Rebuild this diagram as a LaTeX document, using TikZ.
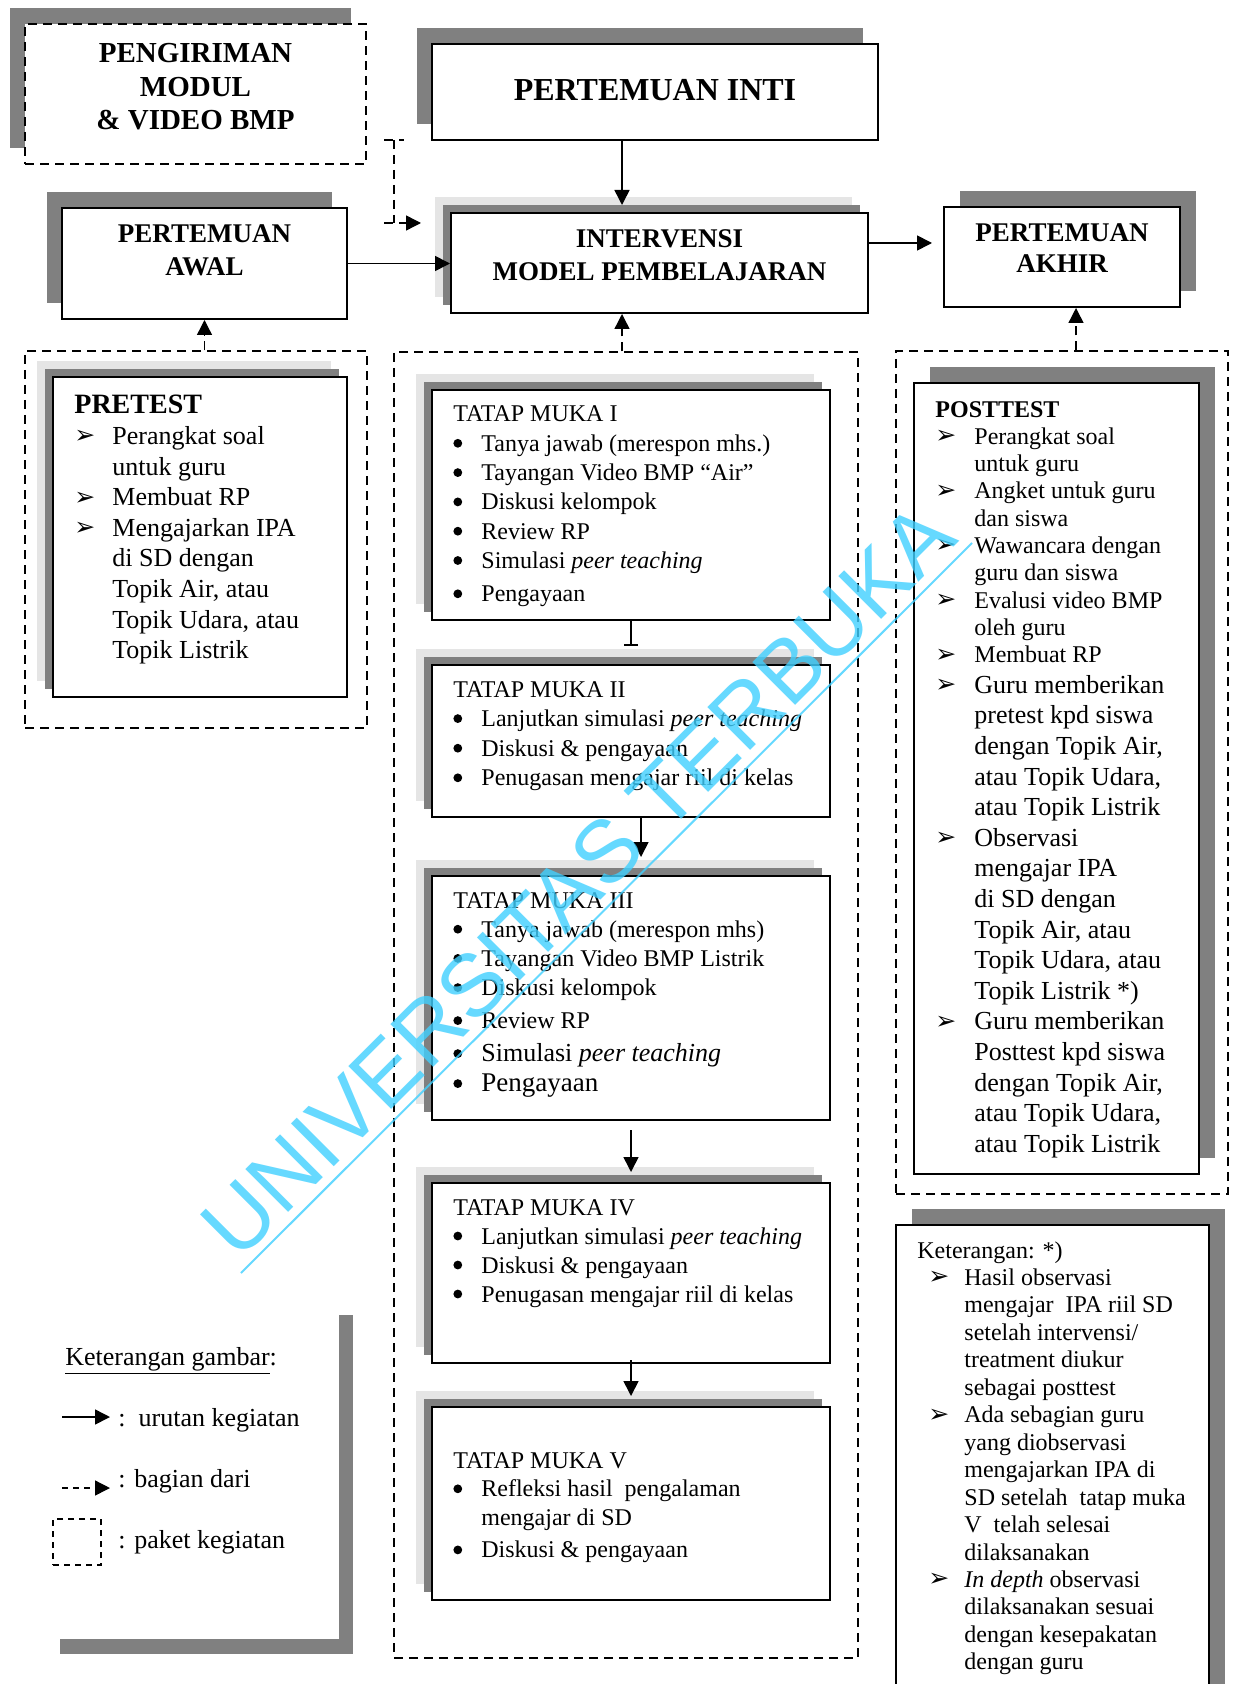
\documentclass[tikz,border=0pt]{standalone}
\usepackage{fontspec}
\setmainfont{Liberation Serif}
\newfontfamily\symfont{DejaVu Sans}
\newfontfamily\wmfont{Liberation Sans}
\usetikzlibrary{arrows.meta,fit,shadows}

\definecolor{shadowgray}{RGB}{128,128,128}
\definecolor{lightshade}{RGB}{229,229,229}
\definecolor{wmblue}{RGB}{64,208,255}

% list items
\newcommand\arr{\raisebox{0.3pt}{\symfont\fontsize{12.5}{12}\selectfont ➢}}
\newcommand\bdot{\raisebox{1.8pt}{\tikz\fill (0,0) circle (2.2pt);}}
\newcommand\bitem[1]{\par\noindent\hangindent=14pt\hangafter=1\makebox[14pt][l]{\bdot}#1}
\newcommand\aitem[2][19pt]{\par\noindent\hangindent=#1\hangafter=1\makebox[#1][l]{\arr}#2}
\newcommand\kitem[1]{\par\noindent\hangindent=23.5pt\hangafter=1\hspace*{5.5pt}\makebox[18pt][l]{\arr}#1}

\begin{document}
\begin{tikzpicture}
	[
	x=0.5pt, y=-0.5pt,
	box/.style = {draw, line width=1pt, fill=white, inner sep=0pt},
	pkg/.style = {draw, dash pattern=on 4.5pt off 3pt, line width=0.7pt, inner sep=0pt},
	shadowUL/.style = {general shadow={fill=shadowgray, shadow xshift=-7.75pt, shadow yshift=7.75pt}},
	shadowUR/.style = {general shadow={fill=shadowgray, shadow xshift=8pt, shadow yshift=8pt}},
	twoshadow/.style = {general shadow={fill=lightshade, shadow xshift=-8pt, shadow yshift=8pt},
		general shadow={fill=shadowgray, shadow xshift=-4pt, shadow yshift=4pt}},
	txt/.style = {inner sep=0pt, anchor=base west},
	title/.style = {inner sep=0pt, anchor=base, font=\bfseries},
	legtxt/.style = {txt, font=\fontsize{13}{15}\selectfont},
	seq/.style = {line width=0.8pt, -{Triangle[length=7.5pt,width=7.5pt]}},
	part/.style = {seq, dash pattern=on 4.5pt off 3pt, line width=0.7pt},
	wm/.style = {inner sep=0pt, anchor=base west, rotate=45, text=wmblue, text opacity=0.8,
		font=\wmfont\fontsize{44}{44}\selectfont}
	]
	
	\path[use as bounding box, fill=white] (0,0) rectangle (1236,1684);
	
	% top row
	\node[box, shadowUL, dash pattern=on 4.5pt off 3pt, line width=0.7pt, fit={(25,24) (366,164)}] (kirim) {};
	\node[box, shadowUL, fit={(432,44) (878,140)}] (inti) {};
	\node[box, shadowUL, fit={(62,208) (347,319)}] (awal) {};
	\node[box, twoshadow, fit={(451,213) (868,313)}] (interv) {};
	\node[box, shadowUR, fit={(944,207) (1180,307)}] (akhir) {};
	
	\node[title] (kirimtxt) at (195.5,63) {\parbox[t]{170pt}{\centering\fontsize{14.5}{16.75}\selectfont PENGIRIMAN\\MODUL\\\& VIDEO BMP}};
	\node[title] (intitxt) at (655,101) {\fontsize{16}{19}\selectfont PERTEMUAN INTI};
	\node[title] (awaltxt) at (204.5,243) {\parbox[t]{140pt}{\centering\fontsize{13.5}{16.5}\selectfont PERTEMUAN\\AWAL}};
	\node[title] (intervtxt) at (659.5,248) {\parbox[t]{205pt}{\centering\fontsize{13.5}{16.5}\selectfont INTERVENSI\\MODEL PEMBELAJARAN}};
	\node[title] (akhirtxt) at (1062,242) {\parbox[t]{115pt}{\centering\fontsize{13.5}{15.5}\selectfont PERTEMUAN\\AKHIR}};
	
	% paket kegiatan
	\node[pkg, fit={(25,351) (367,728)}] (pkgL) {};
	\node[pkg, fit={(394,352) (858,1658)}] (pkgC) {};
	\node[pkg, fit={(896,351) (1228,1194)}] (pkgR) {};
	
	% pretest
	\node[box, twoshadow, fit={(53,377) (347,697)}] (pre) {};
	\node[txt] (pretxt) at (74,414) {\parbox[t]{136pt}{\raggedright\fontsize{13}{15.3}\selectfont
			{\bfseries\fontsize{14}{15.3}\selectfont PRETEST}
			\aitem{Perangkat soal\newline untuk guru}
			\aitem{Membuat RP}
			\aitem{Mengajarkan IPA\newline\ di SD dengan\newline Topik Air, atau\newline Topik Udara, atau\newline Topik Listrik}}};
	
	% tatap muka
	\node[box, twoshadow, fit={(432,390) (830,620)}] (tm1) {};
	\node[box, twoshadow, fit={(432,665) (830,817)}] (tm2) {};
	\node[box, twoshadow, fit={(432,876) (830,1120)}] (tm3) {};
	\node[box, twoshadow, fit={(432,1183) (830,1363)}] (tm4) {};
	\node[box, twoshadow, fit={(432,1407) (830,1600)}] (tm5) {};
	
	\node[txt] (tm1txt) at (453,422) {\parbox[t]{185pt}{\raggedright\fontsize{12}{14.65}\selectfont
			TATAP MUKA I
			\bitem{Tanya jawab (merespon mhs.)}
			\bitem{Tayangan Video BMP “Air”}
			\bitem{Diskusi kelompok}
			\bitem{Review RP}
			\bitem{Simulasi \textit{peer teaching}}
			\par\vspace{2pt}
			\bitem{Pengayaan}}};
	\node[txt] (tm2txt) at (453,697) {\parbox[t]{185pt}{\raggedright\fontsize{12}{14.8}\selectfont
			TATAP MUKA II
			\bitem{Lanjutkan simulasi \textit{peer teaching}}
			\bitem{Diskusi \& pengayaan}
			\bitem{Penugasan mengajar riil di kelas}}};
	\node[txt] (tm3txt) at (453,908) {\parbox[t]{185pt}{\raggedright\fontsize{12}{14.6}\selectfont
			TATAP MUKA III
			\bitem{Tanya jawab (merespon mhs)}
			\bitem{Tayangan Video BMP Listrik}
			\bitem{Diskusi kelompok}
			\bitem{Review RP}
			{\fontsize{13}{16.5}\selectfont\bitem{Simulasi \textit{peer teaching}}\par}
			{\fontsize{13.5}{15}\selectfont\bitem{Pengayaan}\par}}};
	\node[txt] (tm4txt) at (453,1215) {\parbox[t]{185pt}{\raggedright\fontsize{12}{14.5}\selectfont
			TATAP MUKA IV
			\bitem{Lanjutkan simulasi \textit{peer teaching}}
			\bitem{Diskusi \& pengayaan}
			\bitem{Penugasan mengajar riil di kelas}}};
	\node[txt] (tm5txt) at (453,1468) {\parbox[t]{185pt}{\raggedright\fontsize{12}{14.4}\selectfont
			TATAP MUKA V
			\bitem{Refleksi hasil\ \ pengalaman\newline mengajar di SD}
			\par\vspace{1.75pt}
			\bitem{Diskusi \& pengayaan}}};
	
	% posttest
	\node[box, shadowUR, fit={(914,383) (1199,1174)}] (post) {};
	\node[txt] (posttxt) at (935,417) {\parbox[t]{132pt}{\raggedright\fontsize{12}{13.65}\selectfont
			\textbf{POSTTEST}
			\aitem[19.5pt]{Perangkat soal\newline untuk guru}
			\aitem[19.5pt]{Angket untuk guru\newline dan siswa}
			\aitem[19.5pt]{Wawancara dengan\newline guru dan siswa}
			\aitem[19.5pt]{Evalusi video BMP\newline oleh guru}
			\aitem[19.5pt]{Membuat RP}
			\par\fontsize{13}{15.3}\selectfont
			\aitem[19.5pt]{Guru memberikan\newline pretest kpd siswa\newline dengan Topik Air,\newline atau Topik Udara,\newline atau Topik Listrik}
			\aitem[19.5pt]{Observasi\newline mengajar IPA\newline\ di SD dengan\newline Topik Air, atau\newline Topik Udara, atau\newline Topik Listrik *)}
			\aitem[19.5pt]{Guru memberikan\newline Posttest kpd siswa\newline dengan Topik Air,\newline atau Topik Udara,\newline atau Topik Listrik}}};
	
	% keterangan *)
	\node[box, shadowUR, fit={(896,1225) (1209,1720)}] (ket) {};
	\node[txt] (kettxt) at (917,1258) {\parbox[t]{146pt}{\raggedright\fontsize{12}{13.73}\selectfont
			Keterangan: *)
			\kitem{Hasil observasi\newline mengajar\ \ IPA riil SD\newline setelah intervensi/\newline treatment diukur\newline sebagai posttest}
			\kitem{Ada sebagian guru\newline yang diobservasi\newline mengajarkan IPA di\newline SD setelah\ \ tatap muka\newline V\ \ telah selesai\newline dilaksanakan}
			\kitem{\textit{In depth} observasi\newline dilaksanakan sesuai\newline dengan kesepakatan\newline dengan guru}}};
	
	% connectors
	\coordinate (colx) at (622,0);
	\coordinate (kirimout) at (384,140);
	\coordinate (intervin) at (421,223);
	\coordinate (akhirin) at ([xshift=7pt]akhir.south);
	\draw[part, -] (kirimout) -- ++(20,0);
	\draw[part, -] ([xshift=5pt]kirimout) -- ([xshift=5pt]kirimout |- intervin);
	\draw[part] (kirimout |- intervin) -- (intervin);
	\draw[seq] (inti.south -| colx) -- ([yshift=3.5pt]interv.north -| colx);
	\draw[seq] (awal.east) -- (awal.east -| interv.west);
	\draw[seq, shorten >=5.5pt] ([yshift=10pt]interv.east) -- ([yshift=10pt]interv.east -| akhir.west);
	\draw[part] (pkgL.north -| awal.south) -- (awal.south);
	\draw[part] (pkgC.north -| colx) -- (interv.south -| colx);
	\draw[part] (pkgR.north -| akhirin) -- (akhirin);
	
	\draw[line width=0.8pt, -{Bar[width=7pt]}] (tm1.south) -- ([yshift=9pt]tm2.north);
	\draw[seq] ([xshift=5pt]tm2.south) -- ([xshift=5pt,yshift=9pt]tm3.north);
	\draw[seq] ([yshift=-4.5pt]tm3.south) -- ([yshift=5pt]tm4.north);
	\draw[seq] ([yshift=2pt]tm4.south) -- ([yshift=5pt]tm5.north);
	
	% keterangan gambar
	\node[fill=white, inner sep=0pt, general shadow={fill=shadowgray, shadow xshift=7pt, shadow yshift=-7.5pt},
	fit={(46,1300) (339,1639)}] (legend) {};
	\node[legtxt] (legtitle) at (65,1365) {\underline{Keterangan gambar}:};
	\coordinate (seqA) at (62,1417);
	\coordinate (seqB) at (110,1417);
	\draw[seq] (seqA) -- (seqB);
	\node[legtxt] (legseq) at (118,1426) {:\ \ urutan kegiatan};
	\coordinate (partA) at (62,1488);
	\coordinate (partB) at (110,1488);
	\draw[part, dash pattern=on 3pt off 2.5pt] (partA) -- (partB);
	\node[legtxt] (legpart) at (118,1487) {: bagian dari};
	\node[pkg, dash pattern=on 3pt off 2.5pt, fit={(53,1519) (101,1565)}] (legpkg) {};
	\node[legtxt] (legpkgtxt) at (118,1548) {: paket kegiatan};
	
	% watermark
	\node[wm] (wmtext) at (238,1263) {UNIVERSITAS TERBUKA};
	\coordinate (wmA) at (241,1273);
	\coordinate (wmB) at (972,543);
	\draw[wmblue, opacity=0.8, line width=1pt] (wmA) -- (wmB);
	
\end{tikzpicture}
\end{document}
